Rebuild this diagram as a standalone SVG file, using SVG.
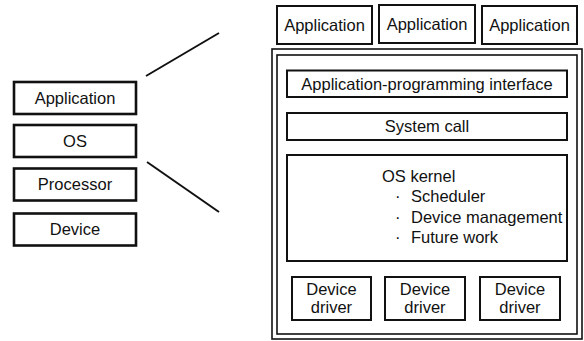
<svg xmlns="http://www.w3.org/2000/svg" width="584" height="341" viewBox="0 0 584 341">
<style>
.b{fill:#fff;stroke:#111;stroke-width:2}
.bl{fill:#fff;stroke:#111;stroke-width:2.6}
.f{fill:none;stroke:#111;stroke-width:1.6}
.t{font-family:"Liberation Sans",Arial,sans-serif;font-size:16.5px;fill:#111;text-anchor:middle}
.l{font-family:"Liberation Sans",Arial,sans-serif;font-size:16.5px;fill:#111}
.c{stroke:#111;stroke-width:2;fill:none}
</style>
<rect width="584" height="341" fill="#fff"/>
<g id="connectors">
<line class="c" x1="146" y1="76" x2="219" y2="33"/>
<line class="c" x1="147" y1="162" x2="219" y2="212"/>
</g>
<g id="left-application"><rect class="bl" x="14" y="82" width="122" height="32"/><text class="t" x="75" y="104">Application</text></g>
<g id="left-os"><rect class="bl" x="14" y="125" width="122" height="32"/><text class="t" x="75" y="146.5">OS</text></g>
<g id="left-processor"><rect class="bl" x="14" y="168.5" width="122" height="32"/><text class="t" x="75" y="190">Processor</text></g>
<g id="left-device"><rect class="bl" x="14" y="213.5" width="122" height="32"/><text class="t" x="75" y="235">Device</text></g>
<g id="app1"><rect class="b" x="277" y="6" width="95" height="38"/><text class="t" x="324.5" y="31">Application</text></g>
<g id="app2"><rect class="b" x="379" y="5" width="96" height="38"/><text class="t" x="427" y="30">Application</text></g>
<g id="app3"><rect class="b" x="482" y="6" width="95" height="38"/><text class="t" x="529.5" y="31">Application</text></g>
<g id="os-frame">
<rect class="f" x="272" y="49" width="310" height="290"/>
<rect class="f" x="277" y="55" width="300" height="279"/>
</g>
<g id="api"><rect class="b" x="287" y="70.5" width="280" height="26.5"/><text class="t" x="427" y="89.5">Application-programming interface</text></g>
<g id="syscall"><rect class="b" x="287" y="113" width="280" height="27"/><text class="t" x="427" y="132">System call</text></g>
<g id="kernel"><rect class="b" x="287" y="155" width="280" height="106"/>
<text class="l" x="382" y="182">OS kernel</text>
<text class="l"><tspan x="395" y="202">·</tspan><tspan x="411" y="202">Scheduler</tspan></text>
<text class="l"><tspan x="395" y="223">·</tspan><tspan x="411" y="223">Device management</tspan></text>
<text class="l"><tspan x="395" y="243">·</tspan><tspan x="411" y="243">Future work</tspan></text>
</g>
<g id="driver1"><rect class="b" x="292" y="277" width="79" height="43"/><text class="t" x="331.5" y="295">Device</text><text class="t" x="331.5" y="313">driver</text></g>
<g id="driver2"><rect class="b" x="385" y="277" width="80" height="43"/><text class="t" x="425" y="295">Device</text><text class="t" x="425" y="313">driver</text></g>
<g id="driver3"><rect class="b" x="480" y="277" width="80" height="43"/><text class="t" x="520" y="295">Device</text><text class="t" x="520" y="313">driver</text></g>
</svg>
